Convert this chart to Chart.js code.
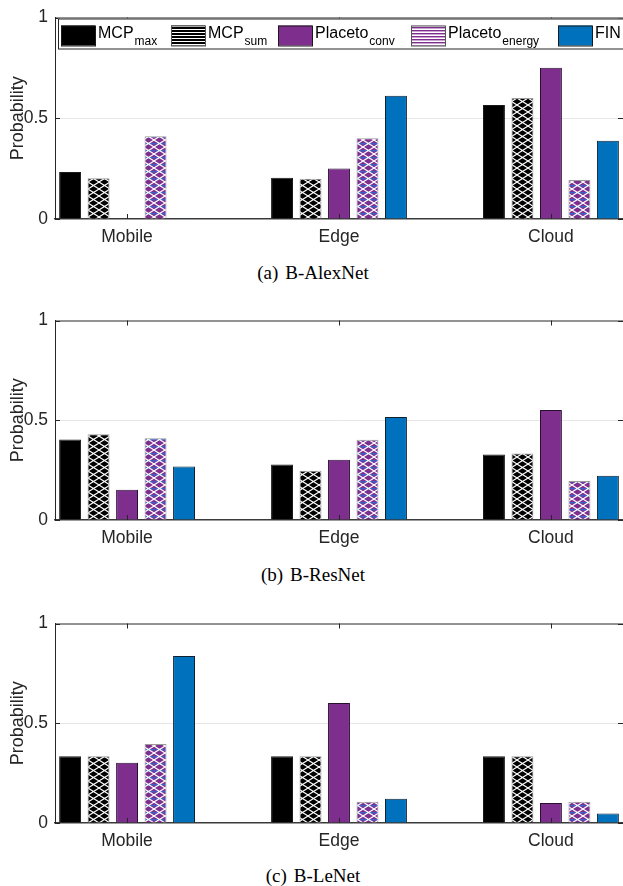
<!DOCTYPE html>
<html>
<head>
<meta charset="utf-8">
<script src="https://cdn.jsdelivr.net/npm/chart.js@4.4.1/dist/chart.umd.min.js"></script>
<style>
  body { margin: 0; background: #fff; width: 623px; height: 886px; position: relative; overflow: hidden; }
  .plot { position: absolute; left: 0; }
  .cap { position: absolute; left: 0; width: 626px; text-align: center; font-family: "Liberation Serif", "Times New Roman", serif; font-size: 19px; line-height: 22px; color: #000; }
  .cap span { margin-right: 7px; }
</style>
</head>
<body>
<div class="plot" style="top:0"><canvas id="c0" width="623" height="250"></canvas></div>
<div class="cap" style="top:262px"><span>(a)</span>B-AlexNet</div>
<div class="plot" style="top:303px"><canvas id="c1" width="623" height="248"></canvas></div>
<div class="cap" style="top:564px"><span>(b)</span>B-ResNet</div>
<div class="plot" style="top:606px"><canvas id="c2" width="623" height="248"></canvas></div>
<div class="cap" style="top:865px"><span>(c)</span>B-LeNet</div>

<script>
// categories and legend text
const categories = ['Mobile', 'Edge', 'Cloud'];
const legendMain = ['MCP', 'MCP', 'Placeto', 'Placeto', 'FIN'];
const legendSub = ['max', 'sum', 'conv', 'energy', ''];
const yTicks = [0, 0.5, 1];

// (a) B-AlexNet
const alexMcpMax = [0.233, 0.205, 0.566];
const alexMcpSum = [0.202, 0.200, 0.600];
const alexPlacetoConv = [0.0, 0.251, 0.751];
const alexPlacetoEnergy = [0.411, 0.401, 0.193];
const alexFin = [0.004, 0.612, 0.388];

// (b) B-ResNet
const resMcpMax = [0.403, 0.278, 0.328];
const resMcpSum = [0.430, 0.247, 0.333];
const resPlacetoConv = [0.152, 0.302, 0.552];
const resPlacetoEnergy = [0.410, 0.402, 0.196];
const resFin = [0.268, 0.516, 0.222];

// (c) B-LeNet
const leMcpMax = [0.335, 0.335, 0.335];
const leMcpSum = [0.335, 0.335, 0.335];
const lePlacetoConv = [0.302, 0.601, 0.100];
const lePlacetoEnergy = [0.396, 0.107, 0.107];
const leFin = [0.837, 0.122, 0.047];

const PURPLE = '#7E2F8E';
const BLUE = '#0072BD';
const AXIS = '#262626';
const FONT = '"Liberation Sans", Arial, Helvetica, sans-serif';

// lattice hatch like matlab's hatchfill
function latticePattern(ctx, bg, band) {
  const t = document.createElement('canvas');
  t.width = 11; t.height = 7;
  const g = t.getContext('2d');
  g.fillStyle = bg; g.fillRect(0, 0, 11, 7);
  if (band) { g.fillStyle = band; g.fillRect(0, 3, 11, 1.5); }
  g.strokeStyle = '#fff'; g.lineWidth = 1.1;
  g.beginPath();
  g.moveTo(0, 0); g.lineTo(11, 7);
  g.moveTo(0, 7); g.lineTo(11, 0);
  g.stroke();
  return ctx.createPattern(t, 'repeat');
}

function stripePattern(ctx, color, light) {
  const t = document.createElement('canvas');
  t.width = 4; t.height = 3;
  const g = t.getContext('2d');
  g.fillStyle = '#fff'; g.fillRect(0, 0, 4, 3);
  g.fillStyle = color; g.fillRect(0, 0, 4, 1);
  g.fillStyle = light; g.fillRect(0, 1, 4, 1);
  return ctx.createPattern(t, 'repeat');
}

// inward ticks and top box line, matlab style
const frame = {
  id: 'frame',
  afterDatasetsDraw(chart) {
    const { ctx, chartArea: a, scales: { x, y } } = chart;
    ctx.save();
    ctx.strokeStyle = AXIS;
    ctx.lineWidth = 1;
    ctx.beginPath();
    ctx.moveTo(a.left, a.top + 0.5); ctx.lineTo(a.right, a.top + 0.5);
    categories.forEach((c, i) => {
      const px = Math.round(x.getPixelForValue(i + 1)) + 0.5;
      ctx.moveTo(px, a.bottom); ctx.lineTo(px, a.bottom - 5);
      ctx.moveTo(px, a.top); ctx.lineTo(px, a.top + 5);
    });
    yTicks.forEach(v => {
      const py = Math.round(y.getPixelForValue(v)) + 0.5;
      ctx.moveTo(a.left, py); ctx.lineTo(a.left + 5, py);
      ctx.moveTo(a.right, py); ctx.lineTo(a.right - 5, py);
    });
    ctx.stroke();
    ctx.restore();
  }
};

// legend with subscripts, only on the first plot
const legendBox = {
  id: 'legendBox',
  afterDraw(chart, args, opts) {
    const fills = opts.fills;
    if (!fills) return;
    const ctx = chart.ctx;
    const a = chart.chartArea;
    const top = a.top + 1, bottom = a.top + 31;
    const edges = ['#1a1a1a', '#555', '#1a1a1a', '#555', '#1a1a1a'];
    const xs = [61, 171, 278, 411, 558];
    ctx.save();
    ctx.fillStyle = '#fff';
    ctx.fillRect(58, top, 570, bottom - top);
    ctx.strokeStyle = AXIS;
    ctx.lineWidth = 1;
    ctx.strokeRect(58.5, top + 0.5, 580, bottom - top);
    xs.forEach((lx, i) => {
      ctx.fillStyle = fills[i];
      ctx.fillRect(lx, top + 7, 34, 20);
      ctx.strokeStyle = edges[i];
      ctx.strokeRect(lx + 0.5, top + 7.5, 34, 20);
      ctx.fillStyle = '#000';
      ctx.textBaseline = 'alphabetic';
      ctx.textAlign = 'left';
      ctx.font = '16px ' + FONT;
      ctx.fillText(legendMain[i], lx + 37, top + 19);
      const w = ctx.measureText(legendMain[i]).width;
      ctx.font = '12px ' + FONT;
      ctx.fillText(legendSub[i], lx + 37 + w + 1, top + 26);
    });
    ctx.restore();
  }
};

function makeChart(id, series, withLegend) {
  const canvas = document.getElementById(id);
  const c2d = canvas.getContext('2d');
  const sumFill = latticePattern(c2d, '#000', null);
  const energyFill = latticePattern(c2d, PURPLE, '#3f5fc4');
  const fills = ['#000', sumFill, PURPLE, energyFill, BLUE];
  const edges = ['#1a1a1a', '#9a9a9a', '#2a1030', '#9a9a9a', '#102030'];
  const legendFills = ['#000', stripePattern(c2d, '#000', '#000'), PURPLE, stripePattern(c2d, PURPLE, '#c9a6d1'), BLUE];

  const datasets = series.map((vals, i) => ({
    label: legendMain[i] + legendSub[i],
    data: vals.map((v, j) => ({ x: j + 1, y: v })),
    backgroundColor: fills[i],
    borderColor: edges[i],
    borderWidth: 1,
    categoryPercentage: 0.672,
    barPercentage: 0.77
  }));

  const plugins = [frame];
  if (withLegend) plugins.push(legendBox);

  return new Chart(canvas, {
    type: 'bar',
    data: { datasets },
    options: {
      responsive: false,
      animation: false,
      layout: { padding: { top: 13, left: 0, right: 0, bottom: 0 } },
      plugins: {
        legend: { display: false },
        tooltip: { enabled: false },
        legendBox: { fills: legendFills }
      },
      scales: {
        x: {
          type: 'linear',
          min: 0.66,
          max: 3.34,
          offset: false,
          afterBuildTicks: s => { s.ticks = categories.map((c, i) => ({ value: i + 1 })); },
          afterFit: s => { s.height = 31; },
          ticks: {
            autoSkip: false,
            maxRotation: 0,
            padding: 8,
            color: AXIS,
            font: { family: FONT, size: 17.5 },
            callback: (v, i) => categories[i]
          },
          grid: { display: false, offset: false, drawTicks: false },
          border: { display: true, color: '#3a3a3a', width: 1.5 }
        },
        y: {
          min: 0,
          max: 1,
          afterBuildTicks: s => { s.ticks = yTicks.map(v => ({ value: v })); },
          afterFit: s => { s.width = 55; },
          ticks: {
            padding: 7,
            color: AXIS,
            font: { family: FONT, size: 17.5 },
            callback: v => String(v)
          },
          grid: {
            drawTicks: false,
            color: ctx => (ctx.tick && ctx.tick.value === 0.5) ? '#e6e6e6' : 'rgba(0,0,0,0)',
            lineWidth: 1
          },
          border: { display: true, color: AXIS, width: 1 },
          title: {
            display: true,
            text: 'Probability',
            color: AXIS,
            font: { family: FONT, size: 18 },
            padding: { top: 7, bottom: 0 }
          }
        }
      }
    },
    plugins
  });
}

makeChart('c0', [alexMcpMax, alexMcpSum, alexPlacetoConv, alexPlacetoEnergy, alexFin], true);
makeChart('c1', [resMcpMax, resMcpSum, resPlacetoConv, resPlacetoEnergy, resFin], false);
makeChart('c2', [leMcpMax, leMcpSum, lePlacetoConv, lePlacetoEnergy, leFin], false);
</script>
</body>
</html>
